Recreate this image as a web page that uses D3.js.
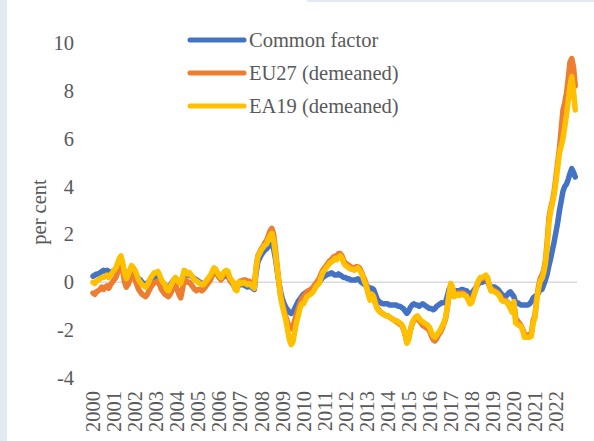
<!DOCTYPE html>
<html>
<head>
<meta charset="utf-8">
<script src="https://cdn.jsdelivr.net/npm/d3@7"></script>
<style>
  body { margin: 0; background: #fff; }
  text { font-family: "Liberation Serif", "Times New Roman", serif; fill: #595959; }
</style>
</head>
<body>
<svg id="chart" width="594" height="441"></svg>
<script>
const years = ["2000", "2001", "2002", "2003", "2004", "2005", "2006", "2007", "2008", "2009", "2010",
  "2011", "2012", "2013", "2014", "2015", "2016", "2017", "2018", "2019", "2020", "2021", "2022"];

const yTicks = [-4, -2, 0, 2, 4, 6, 8, 10];

// monthly values, Jan 2000 - Dec 2022, one row per year
const commonFactor = [
  0.25, 0.3, 0.35, 0.35, 0.4, 0.45, 0.5, 0.45, 0.5, 0.45, 0.4, 0.45,
  0.5, 0.55, 0.6, 0.7, 0.75, 0.6, 0.45, 0.4, 0.4, 0.45, 0.5, 0.45,
  0.35, 0.25, 0.15, 0.1, 0.0, -0.05, -0.1, -0.05, 0.05, 0.1, 0.15, 0.2,
  0.25, 0.3, 0.2, 0.05, -0.05, -0.1, -0.2, -0.25, -0.15, 0.0, 0.1, 0.1,
  0.1, 0.05, 0.0, 0.15, 0.35, 0.35, 0.3, 0.3, 0.25, 0.2, 0.15, 0.1,
  0.05, 0.0, -0.05, -0.05, 0.0, 0.05, 0.1, 0.2, 0.3, 0.4, 0.4, 0.35,
  0.2, 0.15, 0.2, 0.25, 0.3, 0.25, 0.1, 0.0, -0.1, -0.2, -0.25, -0.1,
  -0.1, -0.1, -0.1, -0.15, -0.2, -0.15, -0.2, -0.25, -0.3, 0.4, 0.85, 1.0,
  1.15, 1.25, 1.35, 1.4, 1.5, 1.55, 1.6, 1.4, 1.0, 0.5, 0.0, -0.4,
  -0.7, -0.9, -1.05, -1.15, -1.25, -1.3, -1.25, -1.1, -0.95, -0.8, -0.7, -0.6,
  -0.5, -0.45, -0.4, -0.35, -0.35, -0.3, -0.25, -0.15, -0.1, 0.0, 0.1, 0.2,
  0.25, 0.3, 0.35, 0.35, 0.4, 0.35, 0.3, 0.3, 0.35, 0.3, 0.25, 0.2,
  0.2, 0.15, 0.15, 0.1, 0.1, 0.1, 0.1, 0.15, 0.1, 0.0, -0.05, -0.1,
  -0.15, -0.2, -0.25, -0.25, -0.3, -0.5, -0.7, -0.8, -0.85, -0.9, -0.9, -0.9,
  -0.9, -0.95, -0.95, -0.95, -0.95, -0.95, -1.0, -1.0, -1.05, -1.1, -1.2, -1.3,
  -1.2, -1.05, -0.95, -0.9, -0.95, -0.95, -1.0, -0.95, -0.9, -0.95, -1.0, -1.05,
  -1.1, -1.1, -1.15, -1.1, -1.0, -0.95, -0.9, -0.85, -0.85, -0.85, -0.6, -0.3,
  -0.2, -0.3, -0.4, -0.35, -0.35, -0.35, -0.3, -0.3, -0.35, -0.35, -0.45, -0.5,
  -0.45, -0.35, -0.25, -0.15, -0.05, 0.0, 0.0, 0.05, 0.05, 0.0, -0.1, -0.2,
  -0.2, -0.2, -0.25, -0.3, -0.4, -0.5, -0.55, -0.6, -0.55, -0.45, -0.4, -0.5,
  -0.6, -0.85, -0.85, -0.9, -0.95, -0.95, -0.95, -0.95, -0.95, -0.9, -0.8, -0.65,
  -0.6, -0.55, -0.45, -0.3, -0.3, -0.1, 0.1, 0.35, 0.7, 1.0, 1.35, 1.7,
  2.1, 2.5, 3.0, 3.4, 3.8, 4.0, 4.1, 4.3, 4.55, 4.75, 4.6, 4.4
];

const eu27 = [
  -0.45, -0.5, -0.4, -0.35, -0.3, -0.2, -0.3, -0.2, -0.15, -0.25, -0.1, 0.0,
  0.1, 0.2, 0.4, 0.6, 0.8, 0.5, 0.0, -0.2, -0.1, 0.1, 0.3, 0.3,
  0.1, -0.1, -0.3, -0.4, -0.5, -0.55, -0.6, -0.5, -0.35, -0.2, -0.1, 0.0,
  0.0, 0.05, -0.1, -0.3, -0.4, -0.5, -0.55, -0.6, -0.5, -0.35, -0.2, -0.1,
  -0.3, -0.5, -0.65, -0.3, 0.1, 0.1, 0.0, 0.0, -0.1, -0.2, -0.3, -0.35,
  -0.3, -0.3, -0.35, -0.3, -0.2, -0.1, 0.0, 0.1, 0.3, 0.45, 0.4, 0.3,
  0.2, 0.1, 0.25, 0.35, 0.4, 0.35, 0.1, 0.0, -0.05, -0.25, -0.3, -0.05,
  0.05, 0.05, 0.1, 0.1, 0.0, 0.05, 0.0, -0.1, -0.15, 0.6, 1.1, 1.25,
  1.4, 1.5, 1.65, 1.75, 1.95, 2.15, 2.25, 2.0, 1.4, 0.7, 0.0, -0.6,
  -0.9, -1.2, -1.45, -1.7, -1.9, -1.95, -1.85, -1.6, -1.35, -1.1, -0.9, -0.7,
  -0.6, -0.5, -0.4, -0.35, -0.3, -0.25, -0.15, -0.05, 0.05, 0.15, 0.35, 0.5,
  0.6, 0.7, 0.8, 0.9, 0.95, 1.05, 1.1, 1.05, 1.2, 1.2, 1.1, 0.9,
  0.8, 0.75, 0.7, 0.65, 0.6, 0.6, 0.65, 0.65, 0.6, 0.45, 0.25, 0.1,
  -0.15, -0.45, -0.7, -0.5, -0.6, -0.85, -1.05, -1.15, -1.25, -1.3, -1.35, -1.4,
  -1.4, -1.45, -1.5, -1.55, -1.6, -1.65, -1.7, -1.75, -1.8, -1.95, -2.2, -2.5,
  -2.35, -2.0, -1.75, -1.6, -1.5, -1.5, -1.6, -1.7, -1.8, -1.85, -1.9, -1.95,
  -2.05, -2.25, -2.4, -2.45, -2.35, -2.2, -2.1, -1.95, -1.75, -1.55, -1.1, -0.55,
  -0.1, -0.25, -0.55, -0.5, -0.45, -0.45, -0.45, -0.45, -0.5, -0.55, -0.7, -0.85,
  -0.75, -0.55, -0.35, -0.1, 0.05, 0.15, 0.15, 0.2, 0.2, 0.1, -0.15, -0.35,
  -0.3, -0.35, -0.4, -0.45, -0.55, -0.7, -0.75, -0.75, -0.8, -0.9, -1.0, -1.1,
  -0.85, -1.5, -1.6, -1.7, -1.8, -1.95, -2.15, -2.25, -2.2, -2.2, -2.1, -1.6,
  -1.4, -0.7, -0.2, 0.15, 0.3, 0.5, 0.9, 1.7, 2.7, 3.1, 3.4, 3.8,
  4.4, 5.0, 5.6, 6.4, 7.2, 7.5, 7.9, 8.5, 9.2, 9.35, 9.0, 8.2
];

const ea19 = [
  0.0, -0.05, 0.05, 0.1, 0.15, 0.2, 0.2, 0.25, 0.3, 0.2, 0.3, 0.4,
  0.5, 0.6, 0.8, 1.0, 1.1, 0.8, 0.4, 0.15, 0.3, 0.5, 0.7, 0.6,
  0.5, 0.3, 0.1, 0.0, -0.1, -0.15, -0.2, -0.1, 0.05, 0.2, 0.3, 0.4,
  0.4, 0.45, 0.3, 0.1, 0.0, -0.1, -0.3, -0.35, -0.2, -0.05, 0.1, 0.2,
  0.1, 0.0, -0.05, 0.2, 0.5, 0.45, 0.35, 0.4, 0.3, 0.2, 0.1, 0.05,
  0.0, -0.05, -0.1, -0.1, 0.0, 0.1, 0.2, 0.3, 0.45, 0.6, 0.55, 0.4,
  0.3, 0.2, 0.35, 0.45, 0.5, 0.45, 0.2, 0.1, 0.0, -0.3, -0.35, 0.0,
  0.0, -0.05, 0.0, -0.05, -0.1, -0.05, -0.1, -0.2, -0.25, 0.6, 1.05, 1.2,
  1.35, 1.45, 1.55, 1.6, 1.8, 1.95, 2.05, 1.75, 1.2, 0.6, 0.0, -0.6,
  -1.0, -1.3, -1.6, -2.0, -2.4, -2.6, -2.5, -2.1, -1.7, -1.4, -1.1, -0.9,
  -0.9, -0.75, -0.6, -0.55, -0.5, -0.45, -0.35, -0.2, -0.1, -0.05, 0.2, 0.4,
  0.5, 0.6, 0.7, 0.8, 0.85, 0.9, 1.0, 0.95, 1.05, 1.1, 1.0, 0.8,
  0.7, 0.65, 0.6, 0.55, 0.55, 0.5, 0.55, 0.6, 0.5, 0.4, 0.2, 0.0,
  -0.2, -0.5, -0.75, -0.5, -0.6, -0.9, -1.1, -1.2, -1.25, -1.3, -1.35, -1.4,
  -1.4, -1.45, -1.5, -1.55, -1.6, -1.6, -1.65, -1.7, -1.75, -1.9, -2.2, -2.55,
  -2.4, -2.0, -1.7, -1.55, -1.45, -1.4, -1.5, -1.6, -1.65, -1.7, -1.75, -1.8,
  -1.9, -2.1, -2.25, -2.3, -2.2, -2.1, -2.0, -1.85, -1.7, -1.5, -1.05, -0.5,
  -0.05, -0.2, -0.6, -0.55, -0.5, -0.55, -0.5, -0.5, -0.55, -0.6, -0.75, -0.9,
  -0.85, -0.6, -0.35, -0.1, 0.1, 0.2, 0.2, 0.25, 0.3, 0.2, -0.1, -0.35,
  -0.35, -0.4, -0.45, -0.5, -0.6, -0.75, -0.8, -0.8, -0.85, -0.95, -1.1, -1.25,
  -0.8, -1.7, -1.75, -1.8, -1.85, -2.0, -2.3, -2.3, -2.3, -2.3, -2.25, -1.7,
  -1.5, -0.75, -0.3, 0.05, 0.15, 0.4, 0.8, 1.5, 2.5, 3.0, 3.3, 3.7,
  4.2, 4.8, 5.4, 5.7, 6.0, 6.5, 7.0, 7.6, 8.2, 8.6, 8.0, 7.2
];

const seriesNames = ["Common factor", "EU27 (demeaned)", "EA19 (demeaned)"];
const seriesColors = ["#4472C4", "#ED7D31", "#FFC000"];

const FONT = "Liberation Serif, Times New Roman, serif";
const FONT_SIZE = 20.5;

const svg = d3.select("#chart");

// light frame strips left over from the surrounding page
svg.append("rect").attr("x", 0).attr("y", 0).attr("width", 7).attr("height", 441).attr("fill", "#E3E9F3");
svg.append("rect").attr("x", 307).attr("y", 0).attr("width", 287).attr("height", 2).attr("fill", "#E3E9F3");

const x = d3.scaleLinear().domain([0, years.length * 12]).range([93, 577]);
const y = d3.scaleLinear().domain([-4, 10]).range([378, 43]);

// zero line
svg.append("line")
  .attr("x1", x(0)).attr("x2", x(years.length * 12))
  .attr("y1", y(0)).attr("y2", y(0))
  .attr("stroke", "#D9D9D9")
  .attr("stroke-width", 1.5);

// y axis
const yAxis = svg.append("g")
  .attr("transform", "translate(74,0)")
  .call(d3.axisLeft(y).tickValues(yTicks).tickSize(0).tickPadding(0).tickFormat(d => String(d)));
yAxis.select(".domain").remove();
yAxis.selectAll("text")
  .attr("font-size", FONT_SIZE)
  .attr("font-family", FONT)
  .attr("fill", "#595959");

svg.append("text")
  .attr("transform", "translate(46,212) rotate(-90)")
  .attr("text-anchor", "middle")
  .attr("font-size", FONT_SIZE)
  .text("per cent");

// x axis, one label per January
const xAxis = svg.append("g")
  .attr("transform", "translate(0,391)")
  .call(d3.axisBottom(x)
    .tickValues(years.map((_, i) => i * 12))
    .tickFormat(i => years[i / 12])
    .tickSize(0));
xAxis.select(".domain").remove();
xAxis.selectAll(".tick").attr("transform", null);
xAxis.selectAll("text")
  .attr("font-size", FONT_SIZE)
  .attr("font-family", FONT)
  .attr("fill", "#595959")
  .attr("text-anchor", "end")
  .attr("dy", "0.35em")
  .attr("x", 0)
  .attr("y", 0)
  .attr("transform", d => `translate(${x(d)},0) rotate(-90)`);

// lines
const line = d3.line()
  .x((d, i) => x(i))
  .y(d => y(d));

const allSeries = [commonFactor, eu27, ea19];
svg.append("g").selectAll("path")
  .data(allSeries)
  .join("path")
    .attr("fill", "none")
    .attr("stroke", (d, i) => seriesColors[i])
    .attr("stroke-width", 5.5)
    .attr("stroke-linejoin", "round")
    .attr("stroke-linecap", "round")
    .attr("d", line);

// legend
const legend = svg.append("g").attr("transform", "translate(190,40)");
const rows = legend.selectAll("g")
  .data(seriesNames)
  .join("g")
    .attr("transform", (d, i) => `translate(0,${i * 33})`);
rows.append("line")
  .attr("x1", 0).attr("x2", 54)
  .attr("stroke", (d, i) => seriesColors[i])
  .attr("stroke-width", 5)
  .attr("stroke-linecap", "round");
rows.append("text")
  .attr("x", 59)
  .attr("dy", "0.35em")
  .attr("font-size", FONT_SIZE)
  .text(d => d);
</script>
</body>
</html>
